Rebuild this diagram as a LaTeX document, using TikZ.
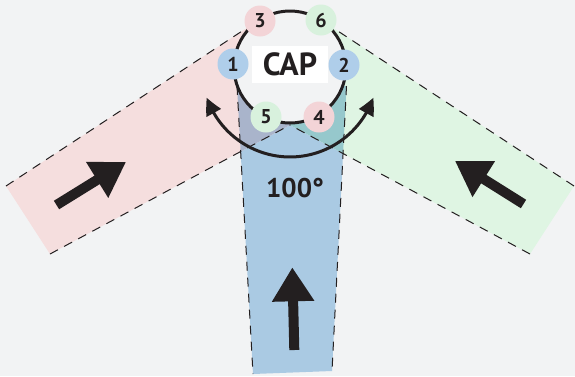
\documentclass[tikz,border=0pt]{standalone}
\usepackage{fontspec}
\setmainfont{PT Sans}
\usetikzlibrary{arrows.meta,bending}
\definecolor{bg}{HTML}{F2F3F4}
\definecolor{pinkband}{HTML}{F5DEDE}
\definecolor{greenband}{HTML}{DFF5E3}
\definecolor{blueband}{HTML}{AACAE3}
\definecolor{pinkblue}{HTML}{A9B4CB}
\definecolor{greenblue}{HTML}{96C8CC}
\definecolor{pinkdot}{HTML}{F3D4D7}
\definecolor{greendot}{HTML}{D8F1DD}
\definecolor{bluedot}{HTML}{AFCEEA}
\definecolor{ink}{HTML}{231F20}
\tikzset{
  edgeline/.style={draw=ink, line width=1pt, dash pattern=on 9pt off 7pt},
  dot/.style={circle, minimum size=31pt, inner sep=0pt, text=ink, font=\fontsize{20}{20}\selectfont\bfseries},
  bigarrow/.style={draw=ink, line width=10pt, -{Triangle[length=34pt,width=40pt]}},
  smallhead/.tip={Triangle[length=17pt,width=16pt,bend]}
}
\begin{document}
\begin{tikzpicture}[x=1pt,y=-1pt]
\useasboundingbox (0,0) rectangle (575,376);
\fill[bg] (0,0) rectangle (575,376);
% band corners
\coordinate (P1) at (6,186);
\coordinate (P2) at (50,254);
\coordinate (P3) at (290,125);
\coordinate (P4) at (262,18);
\coordinate (G1) at (574,186);
\coordinate (G2) at (530,254);
\coordinate (G3) at (290,125);
\coordinate (G4) at (318,18);
\coordinate (B1) at (237,86);
\coordinate (B2) at (253,374);
\coordinate (B3) at (332,371);
\coordinate (B4) at (346.5,86);
% fills
\fill[blueband] (B1)--(B2)--(B3)--(B4)--cycle;
\fill[pinkband] (P1)--(P2)--(P3)--(P4)--cycle;
\fill[greenband] (G1)--(G2)--(G3)--(G4)--cycle;
\begin{scope}
  \clip (P1)--(P2)--(P3)--(P4)--cycle;
  \fill[pinkblue] (B1)--(B2)--(B3)--(B4)--cycle;
\end{scope}
\begin{scope}
  \clip (G1)--(G2)--(G3)--(G4)--cycle;
  \fill[greenblue] (B1)--(B2)--(B3)--(B4)--cycle;
\end{scope}
% dashed edges
\draw[edgeline] (P1)--(P4);
\draw[edgeline] (P2)--(P3);
\draw[edgeline] (G1)--(G4);
\draw[edgeline] (G2)--(G3);
\draw[edgeline] (B1)--(B2);
\draw[edgeline] (B4)--(B3);
% ring
\node[circle, draw=ink, line width=3pt, fill=bg, minimum size=112pt, inner sep=0pt] (ring) at (290,67) {};
\node[dot, fill=pinkdot] (n3) at (260,21) {3};
\node[dot, fill=greendot] (n6) at (321,20) {6};
\node[dot, fill=bluedot] (n1) at (233,64) {1};
\node[dot, fill=bluedot] (n2) at (344,65) {2};
\node[dot, fill=greendot] (n5) at (266,117) {5};
\node[dot, fill=pinkdot] (n4) at (319,117) {4};
\node[fill=white, minimum width=76pt, minimum height=37pt, inner sep=0pt, text=ink,
      font=\fontsize{32}{32}\selectfont\bfseries] (cap) at (290,64.5) {CAP};
% double-headed arc
\coordinate (arcL) at (206.8,97.6);
\draw[line width=3pt, draw=ink, smallhead-smallhead] (arcL) arc[start angle=161, end angle=19, radius=88];
% big arrows
\draw[bigarrow] (56.5,205) -- (126,162);
\draw[bigarrow] (523.5,204) -- (455,161);
\draw[bigarrow] (294.3,350) -- (292.3,267.3);
% angle label
\node[text=ink, font=\fontsize{27}{27}\selectfont\bfseries] (angle) at (295,188) {100°};
\end{tikzpicture}
\end{document}
